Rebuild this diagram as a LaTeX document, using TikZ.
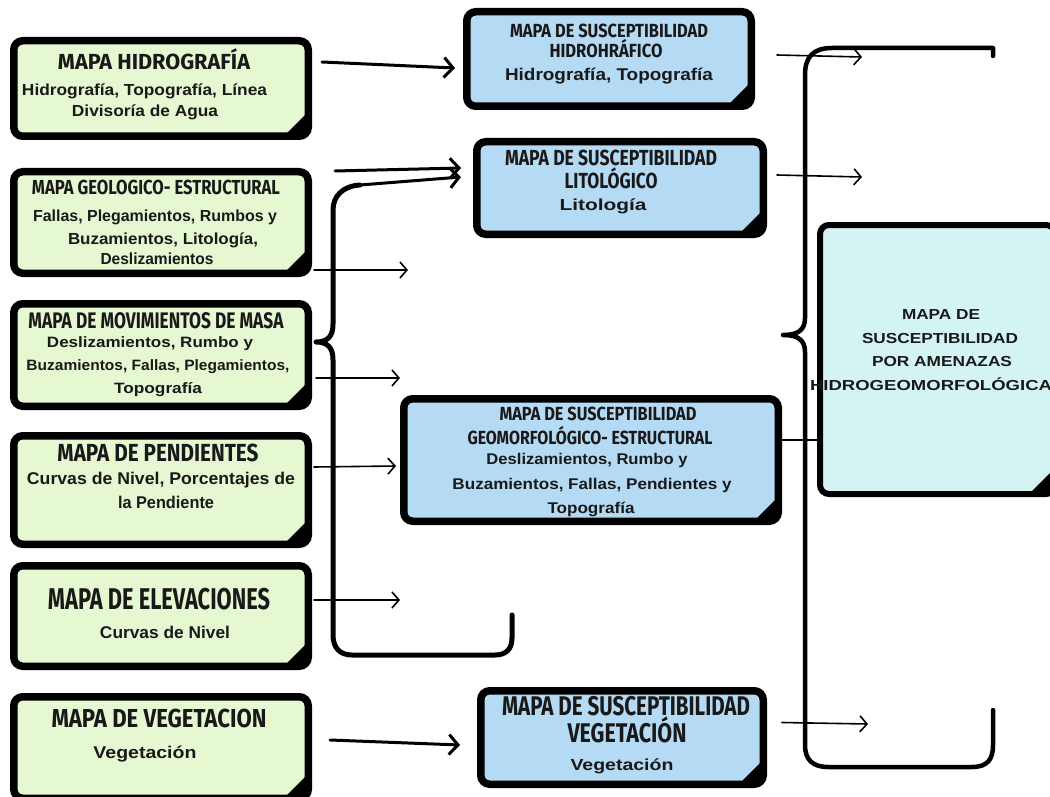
\documentclass[tikz,border=0pt]{standalone}
\usepackage{fontspec}
\usepackage{graphicx}
\setmainfont{Liberation Sans}
\newfontfamily\hfont{Fira Sans}
\usetikzlibrary{arrows.meta,calc}
\definecolor{lg}{HTML}{E5F8D1}
\definecolor{mb}{HTML}{B5DAF4}
\definecolor{rc}{HTML}{D4F4F4}
\newcommand\hdl[6]{\node[txt] (#1) at (#2,#3) {\resizebox{#4pt}{\height}{\hfont\bfseries\fontsize{#5}{#5}\selectfont #6}};}
\newcommand\bdl[6]{\node[txt] (#1) at (#2,#3) {\resizebox{#4pt}{\height}{\bfseries\fontsize{#5}{#5}\selectfont #6}};}
\newcommand\fold[1]{\fill ($(#1.south east)+(-5,-5)$) -- ++(-22,0) -- ++(22,-22) -- cycle;}
\begin{document}
\begin{tikzpicture}[x=1pt,y=-1pt,
  box/.style={draw=black, line width=7.5pt, rounded corners=9pt, inner sep=0pt},
  lbox/.style={box, fill=lg},
  mbox/.style={box, fill=mb},
  rbox/.style={box, fill=rc, line width=6pt},
  txt/.style={anchor=base, inner sep=0pt, outer sep=0pt, text=black!90},
  tarr/.style={line width=3pt, line cap=round, -{Straight Barb[length=9pt,width=20pt]}},
  narr/.style={line width=1.6pt, line cap=round, -{Straight Barb[length=7pt,width=16pt]}},
  brace/.style={line width=5pt, line cap=round, line join=round},
  plain/.style={line width=1.6pt}
]
\useasboundingbox (0,0) rectangle (1050,797);

% ---------- braces (behind) ----------
\draw[brace] (512,615) -- (512,638) .. controls (512,650) and (505,655) .. (495,655) -- (352,655)
  .. controls (340,655) and (333,648) .. (333,635) -- (333,360)
  .. controls (333,348) and (328,342) .. (316,342)
  .. controls (328,342) and (333,336) .. (333,324) -- (333,210)
  .. controls (333,196) and (343,186) .. (360,185);
\coordinate (bt) at (360,185);

\draw[brace, line width=4.5pt] (993,56) -- (993,48) -- (832,48)
  .. controls (813,48) and (805,57) .. (805,75) -- (805,318)
  .. controls (805,330) and (798,335) .. (783,335)
  .. controls (798,335) and (805,340) .. (805,352) -- (805,745)
  .. controls (805,760) and (813,767) .. (828,767) -- (972,767)
  .. controls (987,767) and (993,760) .. (993,745) -- (993,710);

% ---------- left boxes ----------
\node[lbox, minimum width=294.5pt, minimum height=95.5pt] (L1) at (161,88.5) {};
\node[lbox, minimum width=294.5pt, minimum height=101.5pt] (L2) at (161,222.5) {};
\node[lbox, minimum width=294.5pt, minimum height=102.5pt] (L3) at (161,355) {};
\node[lbox, minimum width=294.5pt, minimum height=108.5pt] (L4) at (161,490) {};
\node[lbox, minimum width=294.5pt, minimum height=100.5pt] (L5) at (161,616) {};
\node[lbox, minimum width=294.5pt, minimum height=101.5pt] (L6) at (161,747.5) {};
% ---------- middle boxes ----------
\node[mbox, minimum width=284.5pt, minimum height=94.5pt] (M1) at (609,59) {};
\node[mbox, minimum width=286.5pt, minimum height=92.5pt] (M2) at (620,188) {};
\node[mbox, minimum width=374.5pt, minimum height=122.5pt] (M3) at (591,460) {};
\node[mbox, minimum width=282.5pt, minimum height=93.5pt] (M4) at (622,737.5) {};
% ---------- right box ----------
\node[rbox, minimum width=235pt, minimum height=269pt] (R) at (937.5,359.5) {};

\foreach \n in {L1,L2,L3,L4,L5,L6,M1,M2,M3,M4,R} {\fold{\n}}

% ---------- texts ----------
\hdl{L1h}{154}{70}{192}{21.8}{MAPA HIDROGRAFÍA}
\bdl{L1a}{144.5}{96}{245}{16}{Hidrografía, Topografía, Línea}
\bdl{L1b}{145}{117}{146}{16}{Divisoría de Agua}

\hdl{L2h}{156}{195}{248}{20.3}{MAPA GEOLOGICO- ESTRUCTURAL}
\bdl{L2a}{155}{222}{244}{16}{Fallas, Plegamientos, Rumbos y}
\bdl{L2b}{163}{244}{190}{16}{Buzamientos, Litología,}
\bdl{L2c}{157}{264}{113}{16}{Deslizamientos}

\hdl{L3h}{156}{328}{255}{22.5}{MAPA DE MOVIMIENTOS DE MASA}
\bdl{L3a}{150}{347}{206}{15}{Deslizamientos, Rumbo y}
\bdl{L3b}{158}{370}{263}{15}{Buzamientos, Fallas, Plegamientos,}
\bdl{L3c}{158}{393}{88}{15}{Topografía}

\hdl{L4h}{158}{461}{201}{24.7}{MAPA DE PENDIENTES}
\bdl{L4a}{161}{484}{268}{17}{Curvas de Nivel, Porcentajes de}
\bdl{L4b}{166}{508}{96}{17}{la Pendiente}

\hdl{L5h}{159}{609}{222}{30}{MAPA DE ELEVACIONES}
\bdl{L5a}{165}{638}{130}{17}{Curvas de Nivel}

\hdl{L6h}{159}{727}{215}{26}{MAPA DE VEGETACION}
\bdl{L6a}{145}{758}{103}{17}{Vegetación}

\hdl{M1h}{609}{38}{198}{19}{MAPA DE SUSCEPTIBILIDAD}
\hdl{M1i}{606}{58}{113}{19}{HIDROHRÁFICO}
\bdl{M1a}{609}{81}{208}{17}{Hidrografía, Topografía}

\hdl{M2h}{611}{166}{212}{21.8}{MAPA DE SUSCEPTIBILIDAD}
\hdl{M2i}{611}{188}{93}{21.8}{LITOLÓGICO}
\bdl{M2a}{603}{211}{87}{16}{Litología}

\hdl{M3h}{598}{420}{197}{19}{MAPA DE SUSCEPTIBILIDAD}
\hdl{M3i}{590}{444}{245}{19}{GEOMORFOLÓGICO- ESTRUCTURAL}
\bdl{M3a}{587}{464}{201}{15.5}{Deslizamientos, Rumbo y}
\bdl{M3b}{592}{489}{279}{15.5}{Buzamientos, Fallas, Pendientes y}
\bdl{M3c}{591}{513}{87}{15.5}{Topografía}

\hdl{M4h}{626}{715}{248}{27}{MAPA DE SUSCEPTIBILIDAD}
\hdl{M4i}{627}{742}{119}{27}{VEGETACIÓN}
\bdl{M4a}{622}{770}{103}{16}{Vegetación}

\bdl{R1}{941}{319}{78}{14.5}{MAPA DE}
\bdl{R2}{940}{343}{156}{14.5}{SUSCEPTIBILIDAD}
\bdl{R3}{942}{366}{140}{14.5}{POR AMENAZAS}
\bdl{R4}{931}{390}{242}{14.5}{HIDROGEOMORFOLÓGICA}

% ---------- connectors ----------
\coordinate (e1) at (408,270);
\coordinate (e2) at (400,378);
\coordinate (e4) at (400,600);
\coordinate (r1) at (862,57);
\coordinate (r2) at (862,177);
\coordinate (r4) at (868,724);

\draw[tarr] ([shift={(10,-26.5)}]L1.east) -- ([shift={(-8,9)}]M1.west);
\draw[tarr] ([shift={(23,-51.5)}]L2.east) -- ([shift={(-12,-20)}]M2.west);
\draw[tarr] (bt) -- ([shift={(-12,-11)}]M2.west);
\draw[tarr] ([shift={(18,-7.5)}]L6.east) -- ([shift={(-17,7.5)}]M4.west);

\draw[narr] ([shift={(2,47.5)}]L2.east) -- (e1);
\draw[narr] ([shift={(4,23)}]L3.east) -- (e2);
\draw[narr] ([shift={(2,-23)}]L4.east) -- ([shift={(-4,6)}]M3.west);
\draw[narr] ([shift={(2,-16)}]L5.east) -- (e4);

\draw[narr] ([shift={(22,-4)}]M1.east) -- (r1);
\draw[narr] ([shift={(10,-13)}]M2.east) -- (r2);
\draw[plain] ([shift={(0,-20)}]M3.east) -- ([shift={(0,80.5)}]R.west);
\draw[narr] ([shift={(15,-15)}]M4.east) -- (r4);
\end{tikzpicture}
\end{document}
